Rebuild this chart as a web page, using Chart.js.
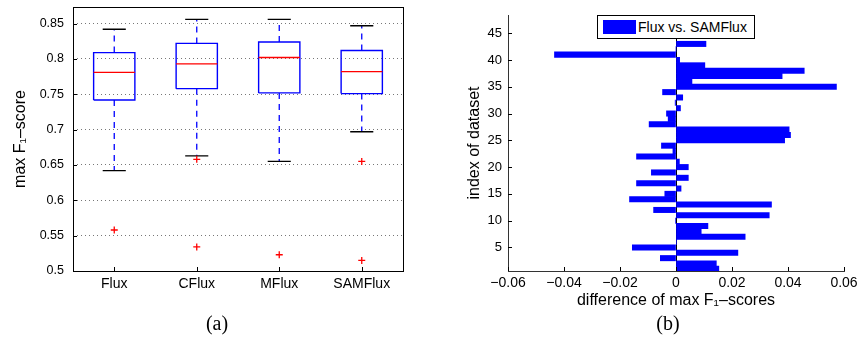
<!DOCTYPE html>
<html>
<head>
<meta charset="utf-8">
<script src="https://cdn.jsdelivr.net/npm/chart.js@4.4.0/dist/chart.umd.min.js"></script>
<style>
  body { margin: 0; background: #fff; width: 860px; height: 356px; position: relative; overflow: hidden;
         font-family: "Liberation Sans", "DejaVu Sans", sans-serif; }
  .panel { position: absolute; top: 0; width: 430px; height: 320px; }
  #boxPanel { left: 0; }
  #barPanel { left: 430px; }
  .legend { position: absolute; left: 597px; top: 15px; width: 156px; height: 22px; border: 1px solid #000;
            background: #fff; font-size: 14px; color: #000; }
  .legend .sw { position: absolute; left: 5px; top: 4px; width: 33px; height: 14px; background: #0000ff; }
  .legend .tx { position: absolute; left: 40px; top: 3px; white-space: nowrap; }
  .cap { position: absolute; top: 312px; width: 60px; text-align: center;
         font-family: "Liberation Serif", "DejaVu Serif", serif; font-size: 20px; color: #000; }
</style>
</head>
<body>
<div class="panel" id="boxPanel"><canvas id="boxChart" width="430" height="320"></canvas></div>
<div class="panel" id="barPanel"><canvas id="barChart" width="430" height="320"></canvas></div>
<div class="legend"><div class="sw"></div><div class="tx">Flux vs. SAMFlux</div></div>
<div class="cap" style="left:187px">(a)</div>
<div class="cap" style="left:638px">(b)</div>
<script>
// (a) box plot of max F1-scores
const methods = ['Flux', 'CFlux', 'MFlux', 'SAMFlux'];
const whiskerHigh = [0.842, 0.856, 0.856, 0.847];
const quart3 = [0.809, 0.822, 0.824, 0.812];
const medians = [0.781, 0.793, 0.802, 0.782];
const quart1 = [0.742, 0.758, 0.752, 0.751];
const whiskerLow = [0.642, 0.663, 0.655, 0.697];
const outliers = [[0.558], [0.658, 0.534], [0.523], [0.655, 0.515]];
const scoreTicks = [0.5, 0.55, 0.6, 0.65, 0.7, 0.75, 0.8, 0.85];

// (b) difference per dataset, index 1..43
const scoreDiff = [
  0.0153, 0.0144, -0.0056, 0.0221, -0.0156, 0.0002, 0.0247, 0.0090, 0.0114, -0.0002,
  0.0333, -0.0080, 0.0341, -0.0166, -0.0040, 0.0018, -0.0141, 0.0044, -0.0088, 0.0044,
  0.0012, -0.0141, -0.0011, -0.0052, 0.0388, 0.0409, 0.0404, -0.0096, -0.0028, -0.0034,
  0.0016, -0.0003, 0.0024, -0.0048, 0.0573, 0.0057, 0.0379, 0.0458, 0.0103, 0.0013,
  -0.0434, 0.0000, 0.0107
];
const datasetIndex = scoreDiff.map((d, i) => i + 1);
const diffTicks = [-0.06, -0.04, -0.02, 0, 0.02, 0.04, 0.06];
const indexTicks = [5, 10, 15, 20, 25, 30, 35, 40, 45];

Chart.defaults.font.family = '"Liberation Sans", "DejaVu Sans", sans-serif';
Chart.defaults.color = '#000';
Chart.defaults.animation = false;

const BOX_HALF = 0.25;
const CAP_HALF = 0.14;

// list of [x1,y1,x2,y2] -> points with a break after each piece
function segments(pieces) {
  const pts = [];
  pieces.forEach(([x1, y1, x2, y2]) => {
    pts.push({x: x1, y: y1}, {x: x2, y: y2}, {x: x2, y: null});
  });
  return pts;
}

const boxPts = [];
methods.forEach((m, i) => {
  const x = i + 1;
  boxPts.push({x: x - BOX_HALF, y: quart1[i]}, {x: x + BOX_HALF, y: quart1[i]},
              {x: x + BOX_HALF, y: quart3[i]}, {x: x - BOX_HALF, y: quart3[i]},
              {x: x - BOX_HALF, y: quart1[i]}, {x: x, y: null});
});

// fixed axis sizes so the plot areas line up with the picture
function fixWidth(w) {
  return s => { s.width = w; s.paddingTop = 0; s.paddingBottom = 0; };
}
function fixHeight(h) {
  return s => { s.height = h; s.paddingLeft = 0; s.paddingRight = 0; };
}

const innerTicks = {
  id: 'innerTicks',
  afterDraw(chart) {
    const {ctx, chartArea: a, scales} = chart;
    ctx.save();
    ctx.strokeStyle = '#000';
    ctx.lineWidth = 1;
    ctx.beginPath();
    scales.x.ticks.forEach(t => {
      const px = Math.round(scales.x.getPixelForValue(t.value)) + 0.5;
      ctx.moveTo(px, a.bottom);
      ctx.lineTo(px, a.bottom - 4);
    });
    scales.y.ticks.forEach(t => {
      const py = Math.round(scales.y.getPixelForValue(t.value)) + 0.5;
      ctx.moveTo(a.left, py);
      ctx.lineTo(a.left + 4, py);
    });
    ctx.stroke();
    ctx.restore();
  }
};

const frame = {
  id: 'frame',
  afterDraw(chart) {
    const {ctx, chartArea: a} = chart;
    ctx.save();
    ctx.strokeStyle = '#000';
    ctx.lineWidth = 1;
    ctx.strokeRect(Math.round(a.left) + 0.5, Math.round(a.top) + 0.5,
                   Math.round(a.right - a.left), Math.round(a.bottom - a.top));
    ctx.restore();
  }
};

new Chart(document.getElementById('boxChart'), {
  type: 'scatter',
  data: {
    datasets: [
      {
        label: 'outliers',
        data: outliers.flatMap((list, i) => list.map(v => ({x: i + 1, y: v}))),
        pointStyle: 'cross', pointRadius: 3.5, borderColor: '#ff0000', borderWidth: 1.3,
        backgroundColor: '#ff0000'
      },
      {
        label: 'medians',
        data: segments(medians.map((v, i) => [i + 1 - BOX_HALF, v, i + 1 + BOX_HALF, v])),
        showLine: true, pointRadius: 0, borderColor: '#ff0000', borderWidth: 1.4, spanGaps: false
      },
      {
        label: 'boxes',
        data: boxPts,
        showLine: true, pointRadius: 0, borderColor: '#0000ff', borderWidth: 1.4, spanGaps: false
      },
      {
        label: 'caps',
        data: segments(methods.flatMap((m, i) => [
          [i + 1 - CAP_HALF, whiskerHigh[i], i + 1 + CAP_HALF, whiskerHigh[i]],
          [i + 1 - CAP_HALF, whiskerLow[i], i + 1 + CAP_HALF, whiskerLow[i]]
        ])),
        showLine: true, pointRadius: 0, borderColor: '#000', borderWidth: 1.3, spanGaps: false
      },
      {
        label: 'whiskers',
        data: segments(methods.flatMap((m, i) => [
          [i + 1, quart3[i], i + 1, whiskerHigh[i]],
          [i + 1, quart1[i], i + 1, whiskerLow[i]]
        ])),
        showLine: true, pointRadius: 0, borderColor: '#0000ff', borderWidth: 1.3,
        borderDash: [6, 5], spanGaps: false
      }
    ]
  },
  options: {
    responsive: false,
    layout: {padding: {top: 7, right: 27, left: 0, bottom: 0}},
    plugins: {legend: {display: false}, tooltip: {enabled: false}},
    scales: {
      x: {
        type: 'linear', min: 0.5, max: 4.5, offset: false,
        afterBuildTicks: s => { s.ticks = methods.map((m, i) => ({value: i + 1})); },
        afterFit: fixHeight(49),
        grid: {display: false, drawTicks: false},
        border: {display: false},
        ticks: {callback: v => methods[v - 1], autoSkip: false, maxRotation: 0, padding: 5,
                font: {size: 14}}
      },
      y: {
        min: 0.5, max: 0.8735, offset: false,
        afterBuildTicks: s => { s.ticks = scoreTicks.map(v => ({value: v})); },
        afterFit: fixWidth(73),
        grid: {color: '#777', drawTicks: false},
        border: {display: false, dash: [1, 3]},
        ticks: {callback: v => String(+v.toFixed(2)), padding: 9, font: {size: 12.5}},
        title: {display: true, text: 'max F\u2081\u2013score', font: {size: 16}, padding: {top: 11, bottom: 0}}
      }
    }
  },
  plugins: [frame, innerTicks]
});

new Chart(document.getElementById('barChart'), {
  type: 'bar',
  data: {
    datasets: [{
      label: 'Flux vs. SAMFlux',
      data: scoreDiff.map((d, i) => ({x: d, y: datasetIndex[i]})),
      backgroundColor: '#0000ff',
      borderWidth: 0,
      barPercentage: 1,
      categoryPercentage: 1
    }]
  },
  options: {
    indexAxis: 'y',
    responsive: false,
    layout: {padding: {top: 15, right: 16, left: 0, bottom: 0}},
    plugins: {legend: {display: false}, tooltip: {enabled: false}},
    scales: {
      x: {
        type: 'linear', min: -0.06, max: 0.06, offset: false,
        afterBuildTicks: s => { s.ticks = diffTicks.map(v => ({value: v})); },
        afterFit: fixHeight(49),
        grid: {color: c => (c.tick && c.tick.value === 0 ? '#000' : 'rgba(0,0,0,0)'), drawTicks: false, lineWidth: 1},
        border: {display: true, color: '#333', width: 1},
        ticks: {
          callback: v => (v === 0 ? '0' : (v < 0 ? '\u2212' : '') + Math.abs(v).toFixed(2)),
          padding: 4, maxRotation: 0, autoSkip: false, font: {size: 14}
        },
        title: {display: true, text: 'difference of max F\u2081\u2013scores', font: {size: 16},
                padding: {top: 0, bottom: 10}}
      },
      y: {
        type: 'linear', min: 0.6, max: 48.4, offset: false,
        afterBuildTicks: s => { s.ticks = indexTicks.map(v => ({value: v})); },
        afterFit: fixWidth(78),
        grid: {display: false, drawTicks: false},
        border: {display: true, color: '#333', width: 1},
        ticks: {padding: 6, font: {size: 13}},
        title: {display: true, text: 'index of dataset', font: {size: 16}, padding: {top: 35, bottom: 0}}
      }
    }
  },
  plugins: [innerTicks]
});
</script>
</body>
</html>
